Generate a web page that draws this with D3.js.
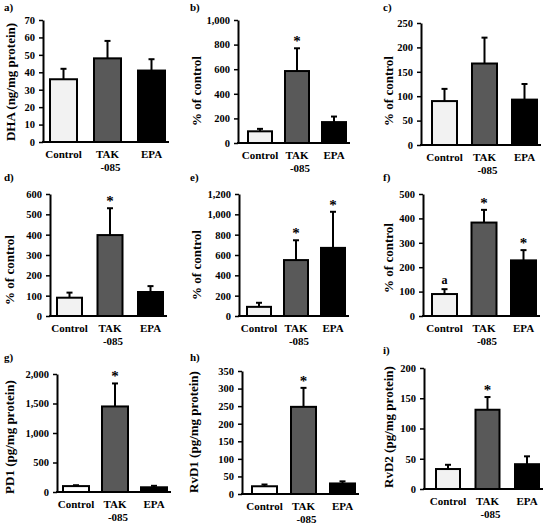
<!DOCTYPE html>
<html>
<head>
<meta charset="utf-8">
<script src="https://cdn.jsdelivr.net/npm/d3@7"></script>
<style>
  body { margin: 0; background: #fff; }
  svg text { font-family: "Liberation Serif", "Times New Roman", serif; font-weight: bold; fill: #000; }
</style>
</head>
<body>
<div id="chart"></div>
<script>
// groups and bar colours
const groups = ['Control', 'TAK-085', 'EPA'];
const groupLines = [['Control'], ['TAK', '-085'], ['EPA']];
const groupFill = ['#f2f2f2', '#595959', '#000000'];

// means and upper error
const meanA = [36, 48, 41],      errA = [6, 10, 6.5];
const meanB = [95, 585, 170],    errB = [20, 185, 45];
const meanC = [90, 167, 93],     errC = [25, 53, 32];
const meanD = [90, 398, 118],    errD = [25, 132, 29];
const meanE = [90, 550, 670],    errE = [40, 195, 355];
const meanF = [90, 383, 228],    errF = [20, 52, 42];
const meanG = [100, 1450, 80],   errG = [15, 390, 25];
const meanH = [22, 248, 30],     errH = [5, 54, 6];
const meanI = [33, 131, 41],     errI = [7, 21, 13];

// y ticks
const ticksA = [0, 10, 20, 30, 40, 50, 60, 70];
const ticksB = [0, 200, 400, 600, 800, 1000];
const ticksC = [0, 50, 100, 150, 200, 250];
const ticksD = [0, 100, 200, 300, 400, 500, 600];
const ticksE = [0, 200, 400, 600, 800, 1000, 1200];
const ticksF = [0, 100, 200, 300, 400, 500];
const ticksG = [0, 500, 1000, 1500, 2000];
const ticksH = [0, 50, 100, 150, 200, 250, 300, 350];
const ticksI = [0, 50, 100, 150, 200];

// significance marks per group
const marksB = ['', '*', ''];
const marksD = ['', '*', ''];
const marksE = ['', '*', '*'];
const marksF = ['a', '*', '*'];
const marksG = ['', '*', ''];
const marksH = ['', '*', ''];
const marksI = ['', '*', ''];
const none = ['', '', ''];

// panel layout
const panels = [
  { tag: 'a)', ylab: 'DHA (ng/mg protein)', mean: meanA, err: errA, ticks: ticksA, marks: none,
    ax: 43, top: 20, bot: 142, c0: 63.5, step: 44, bw: 27, tx: 10, ty: 82, lx: 4, ly: 11, white: false },
  { tag: 'b)', ylab: '% of control', mean: meanB, err: errB, ticks: ticksB, marks: marksB,
    ax: 238, top: 20, bot: 143, c0: 260, step: 37, bw: 24, tx: 196, ty: 91, lx: 190, ly: 11, white: false },
  { tag: 'c)', ylab: '% of control', mean: meanC, err: errC, ticks: ticksC, marks: none,
    ax: 421, top: 23, bot: 145, c0: 444.5, step: 40, bw: 25, tx: 388, ty: 91, lx: 383, ly: 11, white: false },
  { tag: 'd)', ylab: '% of control', mean: meanD, err: errD, ticks: ticksD, marks: marksD,
    ax: 50, top: 194, bot: 316, c0: 69.5, step: 40.5, bw: 25, tx: 9, ty: 270, lx: 4, ly: 181, white: false },
  { tag: 'e)', ylab: '% of control', mean: meanE, err: errE, ticks: ticksE, marks: marksE,
    ax: 239, top: 194, bot: 316, c0: 259, step: 37, bw: 24, tx: 196, ty: 265, lx: 190, ly: 181, white: false },
  { tag: 'f)', ylab: '% of control', mean: meanF, err: errF, ticks: ticksF, marks: marksF,
    ax: 423, top: 194, bot: 316, c0: 444.5, step: 39.5, bw: 25, tx: 388, ty: 258, lx: 383, ly: 181, white: false },
  { tag: 'g)', ylab: 'PD1 (pg/mg protein)', mean: meanG, err: errG, ticks: ticksG, marks: marksG,
    ax: 57, top: 374, bot: 492, c0: 76, step: 39, bw: 26, tx: 9, ty: 437, lx: 4, ly: 361, white: true },
  { tag: 'h)', ylab: 'RvD1 (pg/mg protein)', mean: meanH, err: errH, ticks: ticksH, marks: marksH,
    ax: 242, top: 371, bot: 494, c0: 264.5, step: 39, bw: 25, tx: 193, ty: 432, lx: 190, ly: 361, white: true },
  { tag: 'i)', ylab: 'RvD2 (pg/mg protein)', mean: meanI, err: errI, ticks: ticksI, marks: marksI,
    ax: 424, top: 368, bot: 489, c0: 448, step: 39.5, bw: 24, tx: 388, ty: 427, lx: 383, ly: 354, white: false }
];

const svg = d3.select('#chart').append('svg')
  .attr('width', 550)
  .attr('height', 524);

const fmt = d3.format(',');

panels.forEach(p => {
  const g = svg.append('g');
  const pad = 1 - p.bw / p.step;

  const x = d3.scaleBand()
    .domain(groups)
    .range([p.c0 - p.step / 2, p.c0 + p.step * 2.5])
    .paddingInner(pad)
    .paddingOuter(pad / 2);

  const y = d3.scaleLinear()
    .domain([0, d3.max(p.ticks)])
    .range([p.bot, p.top]);

  // panel letter
  g.append('text')
    .attr('x', p.lx)
    .attr('y', p.ly)
    .attr('font-size', 11)
    .text(p.tag);

  // y title
  g.append('text')
    .attr('transform', `translate(${p.tx},${p.ty}) rotate(-90)`)
    .attr('text-anchor', 'middle')
    .attr('dominant-baseline', 'central')
    .attr('font-size', 13)
    .text(p.ylab);

  // y axis
  const yAxis = g.append('g')
    .attr('transform', `translate(${p.ax},0)`)
    .call(d3.axisLeft(y).tickValues(p.ticks).tickFormat(fmt).tickSize(4).tickSizeOuter(0).tickPadding(4));
  yAxis.select('.domain').attr('stroke', '#000').attr('stroke-width', 2);
  yAxis.selectAll('.tick line').attr('stroke', '#000').attr('stroke-width', 1.5);
  yAxis.selectAll('.tick text')
    .attr('font-size', 10.5)
    .attr('font-family', '"Liberation Serif", "Times New Roman", serif')
    .attr('font-weight', 'bold')
    .attr('fill', '#000');

  // bars
  g.selectAll('rect.bar')
    .data(groups)
    .join('rect')
    .attr('class', 'bar')
    .attr('x', d => x(d))
    .attr('width', x.bandwidth())
    .attr('y', (d, i) => y(p.mean[i]))
    .attr('height', (d, i) => y(0) - y(p.mean[i]))
    .attr('fill', (d, i) => (i === 0 && p.white) ? '#ffffff' : groupFill[i])
    .attr('stroke', '#000')
    .attr('stroke-width', 2);

  // error bars (upper only)
  const cx = d => x(d) + x.bandwidth() / 2;
  g.selectAll('line.err')
    .data(groups)
    .join('line')
    .attr('class', 'err')
    .attr('x1', cx).attr('x2', cx)
    .attr('y1', (d, i) => y(p.mean[i]))
    .attr('y2', (d, i) => y(p.mean[i] + p.err[i]))
    .attr('stroke', '#000')
    .attr('stroke-width', 2);
  g.selectAll('line.cap')
    .data(groups)
    .join('line')
    .attr('class', 'cap')
    .attr('x1', d => cx(d) - 3).attr('x2', d => cx(d) + 3)
    .attr('y1', (d, i) => y(p.mean[i] + p.err[i]))
    .attr('y2', (d, i) => y(p.mean[i] + p.err[i]))
    .attr('stroke', '#000')
    .attr('stroke-width', 2);

  // significance marks
  g.selectAll('text.mark')
    .data(groups)
    .join('text')
    .attr('class', 'mark')
    .attr('x', cx)
    .attr('y', (d, i) => y(p.mean[i] + p.err[i]) - (p.marks[i] === 'a' ? 5 : 2))
    .attr('text-anchor', 'middle')
    .attr('font-size', (d, i) => p.marks[i] === 'a' ? 12 : 15)
    .attr('font-weight', 'normal')
    .text((d, i) => p.marks[i]);

  // x axis line
  const xEnd = x(groups[2]) + x.bandwidth() + 4;
  g.append('line')
    .attr('x1', p.ax - 1).attr('x2', xEnd)
    .attr('y1', p.bot).attr('y2', p.bot)
    .attr('stroke', '#000')
    .attr('stroke-width', 2);

  // x labels
  groups.forEach((d, i) => {
    groupLines[i].forEach((line, j) => {
      g.append('text')
        .attr('x', cx(d) + (j > 0 ? 3 : 0))
        .attr('y', p.bot + 16 + j * 13)
        .attr('text-anchor', 'middle')
        .attr('font-size', 11)
        .attr('font-weight', j > 0 ? 'normal' : 'bold')
        .text(line);
    });
  });
});
</script>
</body>
</html>
